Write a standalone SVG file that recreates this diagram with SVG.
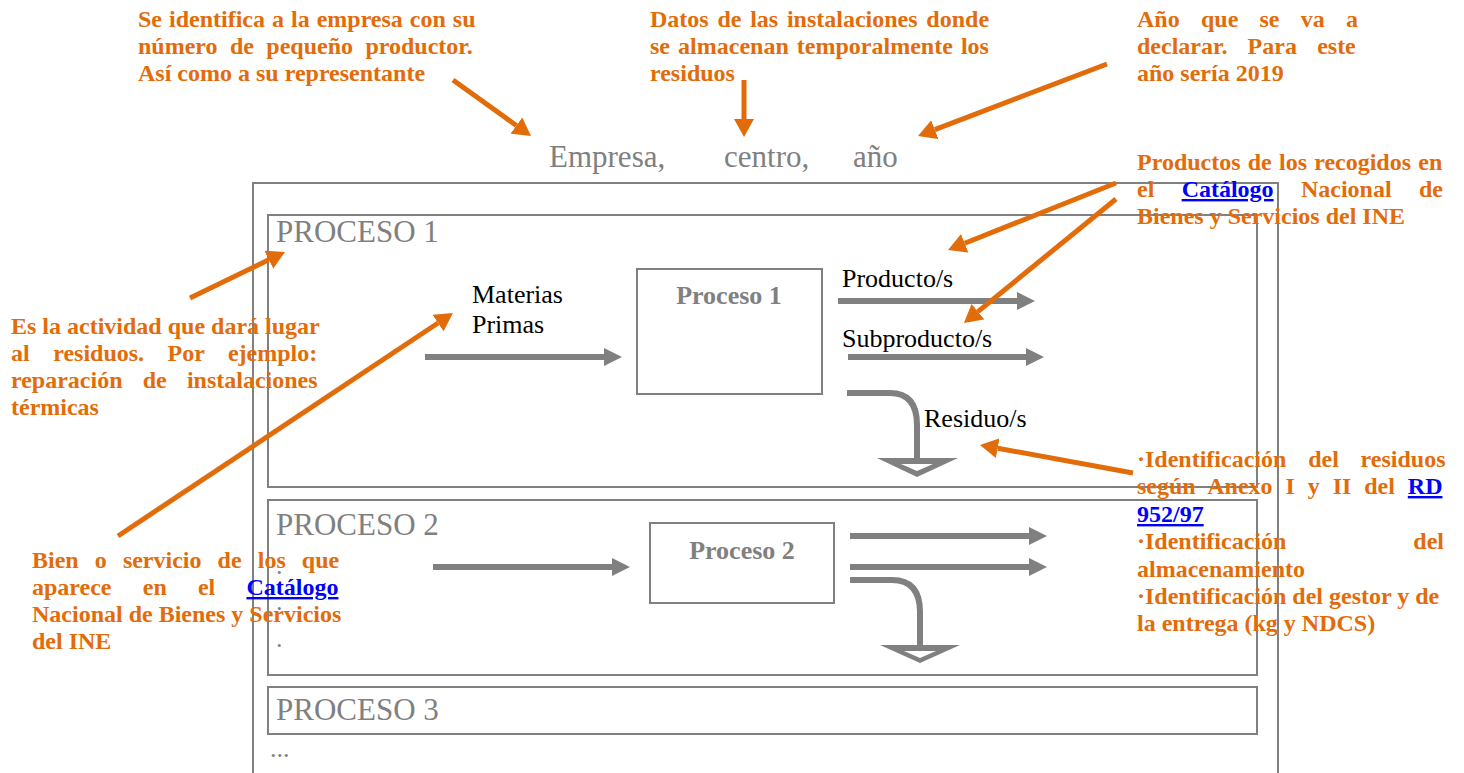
<svg xmlns="http://www.w3.org/2000/svg" width="1464" height="773" viewBox="0 0 1464 773">
<style>
.box{fill:none;stroke:#808080;stroke-width:2}
.gl{fill:none;stroke:#808080;stroke-width:6}
.ol{fill:none;stroke:#E36C0A;stroke-width:5}
.note{font-family:"Liberation Serif","Times New Roman",serif;font-size:24px;font-weight:bold;fill:#E36C0A}
.lnk{fill:#0000FF;text-decoration:underline}
.big{font-family:"Liberation Serif","Times New Roman",serif;font-size:31px;fill:#808080}
.lbl{font-family:"Liberation Serif","Times New Roman",serif;font-size:26px;fill:#000}
.pn{font-family:"Liberation Serif","Times New Roman",serif;font-size:26px;font-weight:bold;fill:#808080;text-anchor:middle}
.dot{font-family:"Liberation Serif","Times New Roman",serif;font-size:26px;fill:#808080}
</style>
<defs>
<marker id="ga" markerUnits="userSpaceOnUse" markerWidth="18" markerHeight="18" refX="0" refY="9" orient="auto"><path d="M0,0 L18,9 L0,18 z" fill="#808080"/></marker>
<marker id="oa" markerUnits="userSpaceOnUse" markerWidth="18" markerHeight="20" refX="0" refY="10" orient="auto"><path d="M0,0 L18,10 L0,20 z" fill="#E36C0A"/></marker>
</defs>
<rect width="1464" height="773" fill="#fff"/>

<g id="title">
<text class="big" x="549" y="167">Empresa,</text>
<text class="big" x="724" y="167">centro,</text>
<text class="big" x="853" y="167">año</text>
</g>

<g id="outer"><rect class="box" x="253" y="183" width="1025" height="620"/></g>

<g id="proceso1">
<rect class="box" x="268" y="215" width="989" height="272"/>
<text class="big" x="276" y="242">PROCESO 1</text>
</g>
<g id="proceso1-box">
<rect class="box" x="637" y="269" width="185" height="125"/>
<text class="pn" x="729" y="304">Proceso 1</text>
</g>
<g id="labels1">
<text class="lbl" x="472" y="303">Materias</text>
<text class="lbl" x="472" y="333">Primas</text>
<text class="lbl" x="842" y="287">Producto/s</text>
<text class="lbl" x="842" y="347">Subproducto/s</text>
<text class="lbl" x="924" y="427">Residuo/s</text>
</g>

<g id="proceso2">
<rect class="box" x="268" y="500" width="989" height="175"/>
<text class="big" x="276" y="535">PROCESO 2</text>
<text class="dot" x="276" y="574">.</text>
<text class="dot" x="276" y="610">.</text>
<text class="dot" x="276" y="647">.</text>
</g>
<g id="proceso2-box">
<rect class="box" x="650" y="523" width="184" height="80"/>
<text class="pn" x="742" y="559">Proceso 2</text>
</g>

<g id="proceso3">
<rect class="box" x="268" y="687" width="989" height="47"/>
<text class="big" x="276" y="720">PROCESO 3</text>
<text class="dot" x="270" y="757">...</text>
</g>

<g id="connectors">
<line class="gl" x1="425" y1="357" x2="604" y2="357" marker-end="url(#ga)"/>
<line class="gl" x1="838" y1="301" x2="1017" y2="301" marker-end="url(#ga)"/>
<line class="gl" x1="848" y1="357" x2="1026" y2="357" marker-end="url(#ga)"/>
<path class="gl" d="M847,393 H890 Q917,393 917,425 V459"/>
<polygon points="877,458 958,458 917,477" fill="#808080"/>
<polygon points="901,464 933,464 917,471" fill="#fff"/>

<line class="gl" x1="433" y1="567" x2="612" y2="567" marker-end="url(#ga)"/>
<line class="gl" x1="850" y1="536" x2="1029" y2="536" marker-end="url(#ga)"/>
<line class="gl" x1="850" y1="567" x2="1029" y2="567" marker-end="url(#ga)"/>
<path class="gl" d="M850,580 H892 Q920,580 920,612 V646"/>
<polygon points="880,645 960,645 920,663" fill="#808080"/>
<polygon points="904,651 936,651 920,658" fill="#fff"/>
</g>

<g id="annotations">
<text class="note" x="138" y="27" word-spacing="1">Se identifica a la empresa con su</text>
<text class="note" x="138" y="54" word-spacing="6.4">número de pequeño productor.</text>
<text class="note" x="138" y="81">Así como a su representante</text>

<text class="note" x="650" y="27" word-spacing="2.75">Datos de las instalaciones donde</text>
<text class="note" x="650" y="54" word-spacing="2.1">se almacenan temporalmente los</text>
<text class="note" x="650" y="81">residuos</text>

<text class="note" x="1137" y="27" word-spacing="15.25">Año que se va a</text>
<text class="note" x="1137" y="54" word-spacing="14.2">declarar. Para este</text>
<text class="note" x="1137" y="81">año sería 2019</text>

<text class="note" x="1137" y="170" word-spacing="1.2">Productos de los recogidos en</text>
<text class="note" x="1137" y="197" word-spacing="21.3">el <tspan class="lnk">Catálogo</tspan> Nacional de</text>
<text class="note" x="1137" y="224">Bienes y Servicios del INE</text>

<text class="note" x="11" y="334">Es la actividad que dará lugar</text>
<text class="note" x="11" y="361" word-spacing="17.5">al residuos. Por ejemplo:</text>
<text class="note" x="11" y="388" word-spacing="14.2">reparación de instalaciones</text>
<text class="note" x="11" y="415">térmicas</text>

<text class="note" x="32" y="568" word-spacing="10.1">Bien o servicio de los que</text>
<text class="note" x="32" y="595" word-spacing="25.2">aparece en el <tspan class="lnk">Catálogo</tspan></text>
<text class="note" x="32" y="622">Nacional de Bienes y Servicios</text>
<text class="note" x="32" y="649">del INE</text>

<text class="note" x="1137" y="467" word-spacing="15.8">·Identificación del residuos</text>
<text class="note" x="1137" y="494" word-spacing="6.9">según Anexo I y II del <tspan class="lnk">RD</tspan></text>
<text class="note" x="1137" y="522"><tspan class="lnk">952/97</tspan></text>
<text class="note" x="1137" y="549">·Identificación</text>
<text class="note" x="1444" y="549" text-anchor="end">del</text>
<text class="note" x="1137" y="577">almacenamiento</text>
<text class="note" x="1137" y="604">·Identificación del gestor y de</text>
<text class="note" x="1137" y="631">la entrega (kg y NDCS)</text>
</g>

<g id="callouts">
<line class="ol" x1="453" y1="80" x2="516.4" y2="125.5" marker-end="url(#oa)"/>
<line class="ol" x1="744" y1="80" x2="744" y2="119" marker-end="url(#oa)"/>
<line class="ol" x1="1107" y1="64" x2="934.8" y2="129.6" marker-end="url(#oa)"/>
<line class="ol" x1="1116" y1="183" x2="964.7" y2="243.3" marker-end="url(#oa)"/>
<line class="ol" x1="1116" y1="199" x2="977.9" y2="311.6" marker-end="url(#oa)"/>
<line class="ol" x1="190" y1="298" x2="268.8" y2="259.8" marker-end="url(#oa)"/>
<line class="ol" x1="118" y1="536" x2="438" y2="323" marker-end="url(#oa)"/>
<line class="ol" x1="1133" y1="473" x2="997.7" y2="448.2" marker-end="url(#oa)"/>
</g>
</svg>
